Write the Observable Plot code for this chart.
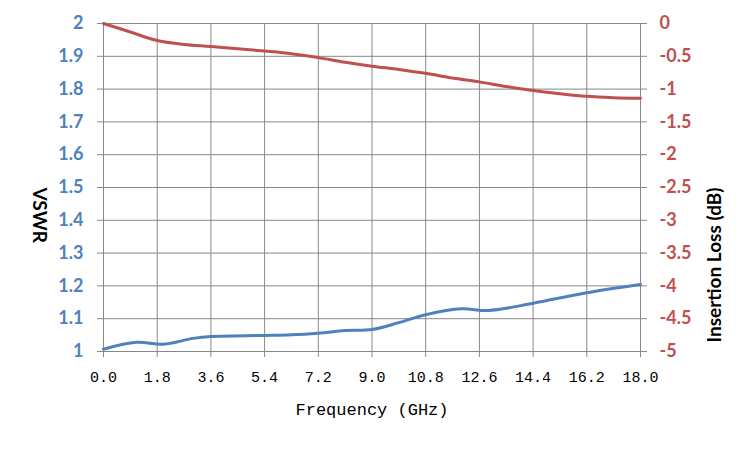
<!DOCTYPE html>
<html>
<head>
<meta charset="utf-8">
<script src="https://cdn.jsdelivr.net/npm/d3@7"></script>
<script src="https://cdn.jsdelivr.net/npm/@observablehq/plot@0.6"></script>
<style>
  html, body { margin: 0; padding: 0; background: #fff; }
</style>
</head>
<body>
<div id="chart"></div>
<script>
const xTicks = [0, 1.8, 3.6, 5.4, 7.2, 9.0, 10.8, 12.6, 14.4, 16.2, 18.0];
const vswrTicks = [1, 1.1, 1.2, 1.3, 1.4, 1.5, 1.6, 1.7, 1.8, 1.9, 2];
const lossTicks = [0, -0.5, -1, -1.5, -2, -2.5, -3, -3.5, -4, -4.5, -5];

const vswrFreq = [0, 1.1, 2.0, 3.0, 3.6, 5.4, 6.3, 7.2, 8.1, 9.0, 9.9, 10.8, 12.0, 12.9, 14.4, 16.2, 18.0];
const vswrValues = [1.007, 1.028, 1.022, 1.040, 1.046, 1.049, 1.051, 1.056, 1.064, 1.067, 1.088, 1.112, 1.130, 1.125, 1.147, 1.179, 1.204];

const lossFreq = [0, 0.9, 1.8, 2.7, 3.6, 4.5, 5.4, 6.3, 7.2, 8.1, 9.0, 9.9, 10.8, 11.7, 12.6, 13.5, 14.4, 15.3, 16.2, 17.1, 18.0];
const lossValues = [0, -0.13, -0.26, -0.32, -0.35, -0.385, -0.42, -0.46, -0.52, -0.59, -0.65, -0.70, -0.76, -0.83, -0.89, -0.96, -1.02, -1.07, -1.11, -1.13, -1.14];

// right axis (dB, -5..0) mapped onto left axis (VSWR, 1..2)
const toLeft = d => 2 + d / 5;
const toRight = v => Math.round((v - 2) * 5 * 10) / 10;

const vswr = vswrFreq.map((f, i) => ({f, v: vswrValues[i]}));
const loss = lossFreq.map((f, i) => ({f, v: lossValues[i]}));

const BLUE = "#4F81BD", RED = "#C0504D", GRID = "#878787";
const sans = "Lato, 'Open Sans', sans-serif";
const mono = "'Liberation Mono', 'DejaVu Sans Mono', monospace";

const chart = Plot.plot({
  width: 750,
  height: 450,
  marginTop: 23,
  marginBottom: 99,
  marginLeft: 103,
  marginRight: 110,
  x: {domain: [0, 18], axis: null},
  y: {domain: [1, 2], axis: null},
  marks: [
    Plot.gridX(xTicks, {stroke: GRID, strokeOpacity: 1, strokeWidth: 1}),
    Plot.gridY(vswrTicks, {stroke: GRID, strokeOpacity: 1, strokeWidth: 1}),
    Plot.axisX(xTicks, {
      anchor: "bottom", label: null, tickSize: 6, tickPadding: 14, stroke: GRID,
      fill: "#000", fontSize: 15, fontFamily: mono,
      tickFormat: d3.format(".1f")
    }),
    Plot.axisY(vswrTicks, {
      anchor: "left", label: null, tickSize: 6, tickPadding: 14, stroke: GRID,
      fill: BLUE, fontSize: 18, fontWeight: "bold", fontFamily: sans,
      tickFormat: d => String(d)
    }),
    Plot.axisY(lossTicks.map(toLeft), {
      anchor: "right", label: null, tickSize: 6, tickPadding: 13, stroke: GRID,
      fill: RED, fontSize: 18, fontWeight: "bold", fontFamily: sans,
      tickFormat: v => String(toRight(v))
    }),
    Plot.line(loss, {x: "f", y: d => toLeft(d.v), stroke: RED, strokeWidth: 3, curve: "catmull-rom"}),
    Plot.line(vswr, {x: "f", y: "v", stroke: BLUE, strokeWidth: 3, curve: "catmull-rom"}),
    Plot.text(["VSWR"], {frameAnchor: "left", dx: -64, rotate: 90, fontSize: 19, fontWeight: "bold", fontFamily: sans, fill: "#000"}),
    Plot.text(["Insertion Loss (dB)"], {frameAnchor: "right", dx: 74, rotate: -90, fontSize: 19, fontWeight: "bold", fontFamily: sans, fill: "#000"}),
    Plot.text(["Frequency (GHz)"], {frameAnchor: "bottom", dy: 63, fontSize: 17, fontFamily: mono, fill: "#000"})
  ]
});
document.getElementById("chart").appendChild(chart);
</script>
</body>
</html>
